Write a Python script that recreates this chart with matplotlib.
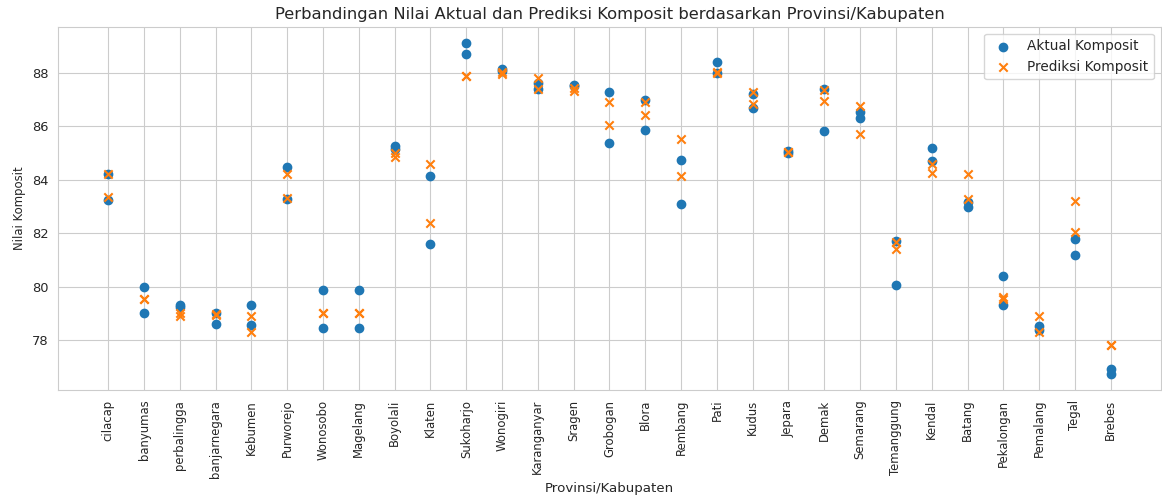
import matplotlib
matplotlib.use('Agg')
import matplotlib.pyplot as plt
import seaborn as sns

sns.set_style('whitegrid')

# two rows per kabupaten (aktual vs prediksi)
wilayah = ['cilacap', 'banyumas', 'perbalingga', 'banjarnegara', 'Kebumen', 'Purworejo',
           'Wonosobo', 'Magelang', 'Boyolali', 'Klaten', 'Sukoharjo', 'Wonogiri',
           'Karanganyar', 'Sragen', 'Grobogan', 'Blora', 'Rembang', 'Pati', 'Kudus',
           'Jepara', 'Demak', 'Semarang', 'Temanggung', 'Kendal', 'Batang',
           'Pekalongan', 'Pemalang', 'Tegal', 'Brebes']

aktual_1 = [84.23, 79.98, 79.32, 79.01, 79.31, 84.49, 79.86, 79.86, 85.26, 84.13,
            89.10, 88.15, 87.61, 87.55, 87.27, 87.00, 84.74, 88.39, 87.20, 85.07,
            87.38, 86.53, 81.72, 85.19, 83.18, 80.40, 78.54, 81.80, 76.92]
aktual_2 = [83.23, 79.01, 79.23, 78.60, 78.56, 83.28, 78.44, 78.44, 85.14, 81.60,
            88.70, 88.07, 87.39, 87.50, 85.37, 85.86, 83.08, 88.00, 86.68, 84.99,
            85.83, 86.31, 80.07, 84.69, 82.97, 79.32, 78.39, 81.19, 76.75]
prediksi_1 = [84.23, 79.53, 79.03, 78.98, 78.92, 84.20, 79.03, 79.01, 85.01, 84.58,
              87.89, 88.04, 87.81, 87.44, 86.92, 86.92, 85.51, 88.04, 87.29, 85.02,
              87.35, 86.77, 81.69, 84.59, 84.20, 79.63, 78.92, 83.21, 77.83]
prediksi_2 = [83.37, 79.53, 78.91, 78.93, 78.29, 83.33, 79.03, 79.01, 84.86, 82.37,
              87.89, 87.95, 87.41, 87.33, 86.04, 86.43, 84.14, 88.01, 86.83, 85.02,
              86.94, 85.70, 81.40, 84.24, 83.28, 79.53, 78.29, 82.06, 77.83]

x = wilayah + wilayah
aktual = aktual_1 + aktual_2
prediksi = prediksi_1 + prediksi_2

fig, ax = plt.subplots(figsize=(11.62, 4.97), dpi=100)
plt.subplots_adjust(left=0.05, right=0.999, top=0.946, bottom=0.215)

ax.scatter(x, aktual, color='#1f77b4', marker='o', label='Aktual Komposit')
ax.scatter(x, prediksi, color='#ff7f0e', marker='x', label='Prediksi Komposit')

plt.xticks(rotation=90, fontsize=8.4)
plt.yticks(fontsize=9.4)
plt.title('Perbandingan Nilai Aktual dan Prediksi Komposit berdasarkan Provinsi/Kabupaten', fontsize=11.8)
plt.xlabel('Provinsi/Kabupaten', fontsize=9.6, labelpad=3)
plt.ylabel('Nilai Komposit', fontsize=8.4)
plt.legend(loc='upper right', fontsize=9.8)

plt.savefig('out.png', dpi=100)
